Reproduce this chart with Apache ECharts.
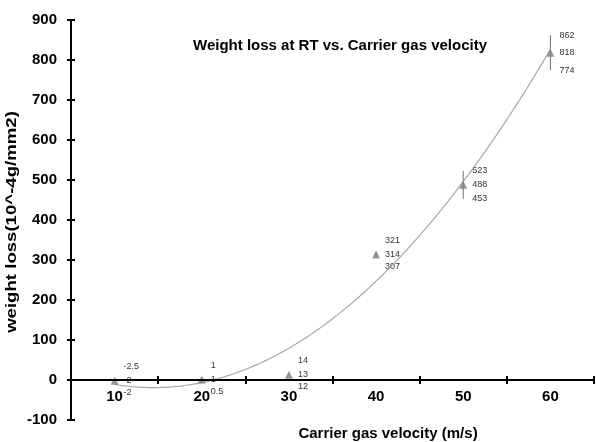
<!DOCTYPE html>
<html>
<head>
<meta charset="utf-8">
<script src="https://cdn.jsdelivr.net/npm/echarts@6/dist/echarts.min.js"></script>
<style>
html,body{margin:0;padding:0;background:#fff;}
#c{width:596px;height:442px;}
</style>
</head>
<body>
<div id="c"></div>
<script>
// ---- data ----
const velocity = [10, 20, 30, 40, 50, 60];
const weightLoss = [-2, 1, 13, 314, 488, 818];
const upperValues = [-2.5, 1, 14, 321, 523, 862];
const lowerValues = [-2, 0.5, 12, 307, 453, 774];
const xTickValues = [5, 15, 25, 35, 45, 55, 65];
const xLabelValues = [10, 20, 30, 40, 50, 60];
const titleText = 'Weight loss at RT vs. Carrier gas velocity';
const xName = 'Carrier gas velocity (m/s)';
const yName = 'weight loss(10^-4g/mm2)';

// ---- polynomial (order 2) least-squares trendline, as in the original spreadsheet ----
function quadFit(xs, ys) {
  const n = xs.length;
  const mx = xs.reduce((a, b) => a + b, 0) / n;
  const u = xs.map(x => x - mx);
  let S0 = n, S1 = 0, S2 = 0, S3 = 0, S4 = 0, T0 = 0, T1 = 0, T2 = 0;
  for (let i = 0; i < n; i++) {
    const a = u[i], y = ys[i];
    S1 += a; S2 += a * a; S3 += a * a * a; S4 += a * a * a * a;
    T0 += y; T1 += a * y; T2 += a * a * y;
  }
  const M = [[S0, S1, S2, T0], [S1, S2, S3, T1], [S2, S3, S4, T2]];
  for (let c = 0; c < 3; c++) {
    for (let r = c + 1; r < 3; r++) {
      const f = M[r][c] / M[c][c];
      for (let k = c; k < 4; k++) M[r][k] -= f * M[c][k];
    }
  }
  const s = [0, 0, 0];
  for (let r = 2; r >= 0; r--) {
    let v = M[r][3];
    for (let k = r + 1; k < 3; k++) v -= M[r][k] * s[k];
    s[r] = v / M[r][r];
  }
  return x => { const a = x - mx; return s[0] + s[1] * a + s[2] * a * a; };
}
const trend = quadFit(velocity, weightLoss);
const trendData = [];
for (let x = velocity[0]; x <= velocity[velocity.length - 1] + 1e-9; x += 0.25) {
  trendData.push([x, trend(x)]);
}

const chart = echarts.init(document.getElementById('c'), null, {renderer: 'canvas'});
const FONT = 'Liberation Sans, Arial, sans-serif';
const Y_MIN = -100, Y_MAX = 900;
const GRID_TOP = 20, GRID_BOTTOM = 22;
// distance (px) from the grid bottom (value -100) up to the zero line
const zeroOffset = -((0 - Y_MIN) / (Y_MAX - Y_MIN)) * (442 - GRID_TOP - GRID_BOTTOM);

const option = {
  animation: false,
  backgroundColor: '#ffffff',
  grid: {left: 71, right: 2, top: GRID_TOP, bottom: GRID_BOTTOM, containLabel: false},
  xAxis: [{
    type: 'value', min: 5, max: 65, position: 'bottom', offset: zeroOffset, z: 3,
    axisLine: {show: true, onZero: false, lineStyle: {color: '#000', width: 2}},
    axisTick: {show: true, length: 4, inside: false, customValues: xTickValues, lineStyle: {color: '#000', width: 2}},
    axisLabel: {show: true, customValues: xLabelValues, margin: 9, color: '#000', fontWeight: 'bold', fontSize: 15, fontFamily: FONT},
    splitLine: {show: false}
  }, {
    type: 'value', min: 5, max: 65, position: 'bottom', offset: zeroOffset, z: 3,
    axisLine: {show: false, onZero: false},
    axisTick: {show: true, length: 4, inside: true, customValues: xTickValues, lineStyle: {color: '#000', width: 2}},
    axisLabel: {show: false},
    splitLine: {show: false}
  }],
  yAxis: [{
    type: 'value', min: Y_MIN, max: Y_MAX, interval: 100, position: 'left', z: 3,
    axisLine: {show: true, onZero: false, lineStyle: {color: '#000', width: 2}},
    axisTick: {show: true, length: 4, inside: false, lineStyle: {color: '#000', width: 2}},
    axisLabel: {margin: 14, color: '#000', fontWeight: 'bold', fontSize: 15, fontFamily: FONT},
    splitLine: {show: false}
  }, {
    type: 'value', min: Y_MIN, max: Y_MAX, interval: 100, position: 'left', z: 3,
    axisLine: {show: false, onZero: false},
    axisTick: {show: true, length: 4, inside: true, lineStyle: {color: '#000', width: 2}},
    axisLabel: {show: false},
    splitLine: {show: false}
  }],
  graphic: [{
    type: 'text', x: 340, y: 46, z: 10,
    style: {text: titleText, font: 'bold 15px ' + FONT, fill: '#000', align: 'center', verticalAlign: 'middle'}
  }, {
    type: 'text', x: 388, y: 434, z: 10,
    style: {text: xName, font: 'bold 15px ' + FONT, fill: '#000', align: 'center', verticalAlign: 'middle'}
  }, {
    type: 'text', x: 12, y: 222, rotation: Math.PI / 2, scaleX: 1.24, z: 10,
    style: {text: yName, font: 'bold 15px ' + FONT, fill: '#000', align: 'center', verticalAlign: 'middle'}
  }],
  series: [{
    name: 'trend', type: 'line', data: trendData, showSymbol: false, symbol: 'none',
    smooth: false, silent: true, z: 1,
    lineStyle: {color: '#a6a6a6', width: 1.2}
  }, {
    name: 'bars', type: 'custom', z: 1, silent: true, clip: false,
    data: velocity.map((v, i) => [v, weightLoss[i], upperValues[i], lowerValues[i]]),
    renderItem: function (params, api) {
      const x = api.value(0), m = api.value(1), hi = api.value(2), lo = api.value(3);
      const pm = api.coord([x, m]);
      const ph = api.coord([x, hi]);
      const pl = api.coord([x, lo]);
      const tx = pm[0] + 9;
      const yHi = Math.min(ph[1], pm[1] - 14);
      const yLo = Math.max(pl[1], pm[1] + 12);
      const txt = (t, y) => ({
        type: 'text', x: tx, y: y,
        style: {text: String(t), fill: '#333', font: '9px ' + FONT, align: 'left', verticalAlign: 'middle'}
      });
      return {
        type: 'group',
        children: [
          {type: 'line', shape: {x1: pm[0], y1: ph[1], x2: pm[0], y2: pl[1]}, style: {stroke: '#707070', lineWidth: 1}},
          txt(hi, yHi), txt(m, pm[1]), txt(lo, yLo)
        ]
      };
    }
  }, {
    name: 'weight loss', type: 'scatter', z: 2,
    data: velocity.map((v, i) => [v, weightLoss[i]]),
    symbol: 'triangle', symbolSize: 8,
    itemStyle: {color: '#7f7f7f'}
  }]
};
chart.setOption(option);
</script>
</body>
</html>
